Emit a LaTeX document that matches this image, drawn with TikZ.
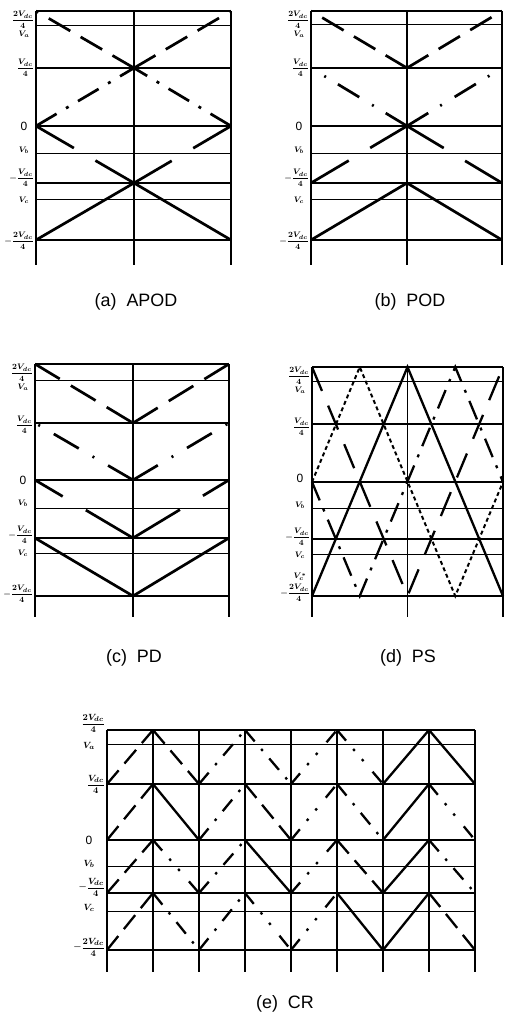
\documentclass[tikz,border=0pt]{standalone}
\usepackage{fontspec}
\setsansfont{Liberation Sans}
\usepackage{amsmath}

% level grid of one panel: thick band lines, thin reference lines, verticals
\newcommand\levelgrid[1]{%
  \foreach \yy in {\pT,\pQ,\pZ,\pM,\pB} \draw[major] (\pL,\yy) -- (\pR,\yy);
  \foreach \yy in {\pVa,\pVb,\pVc} \draw[minor] (\pL,\yy) -- (\pR,\yy);
  \foreach \xx in {#1} \draw[vert] (\xx,\pT) -- (\xx,\pE);
}

% level labels at the left of a panel
\newcommand\levellabels[9]{%
  \node[lvl,anchor=east] (#1-t) at (\pL-2,#2) {$\displaystyle\frac{2V_{dc}}{4}$};
  \node[lvl] (#1-va) at (\pL-\pLo,#3) {$V_a$};
  \node[lvl,anchor=east] (#1-q) at (\pL-2,#4) {$\displaystyle\frac{V_{dc}}{4}$};
  \node[zero] (#1-z) at (\pL-\pLo,#5) {0};
  \node[lvl] (#1-vb) at (\pL-\pLo,#6) {$V_b$};
  \node[lvl,anchor=east] (#1-m) at (\pL-2,#7) {$-\displaystyle\frac{V_{dc}}{4}$};
  \node[lvl] (#1-vc) at (\pL-\pLo,#8) {$V_c$};
  \node[lvl,anchor=east] (#1-b) at (\pL-2,#9) {$-\displaystyle\frac{2V_{dc}}{4}$};
}

\begin{document}
\begin{tikzpicture}[x=1bp,y=-1bp,
  major/.style={line width=1.5bp},
  minor/.style={line width=0.7bp},
  vert/.style={line width=1.6bp},
  wave/.style={line width=2.7bp},
  lvl/.style={inner sep=0pt,font=\fontsize{8}{8}\selectfont\boldmath},
  zero/.style={inner sep=0pt,font=\sffamily\fontsize{12}{12}\selectfont},
  caption/.style={inner sep=0pt,font=\sffamily\fontsize{18}{18}\selectfont},
  crA/.style={line width=2.3bp},
  crB/.style={line width=2.3bp,dash pattern=on 18 off 9},
  crC/.style={line width=2.3bp,dash pattern=on 15 off 10 on 2.5 off 10},
  crD/.style={line width=2.3bp,dash pattern=on 14 off 11 on 2.5 off 11 on 2.5 off 14},
]
\fill[white] (0,0) rectangle (505,1021);
\useasboundingbox (0,0) rectangle (505,1021);

% ---------------- (a) APOD ----------------
\begin{scope}
\def\pL{36}\def\pR{231}\def\pC{134}\def\pLo{12}
\def\pT{11}\def\pVa{25}\def\pQ{68}\def\pZ{126}\def\pVb{153}\def\pM{183}\def\pVc{199}\def\pB{240}\def\pE{265}
\levelgrid{\pL,\pC,\pR}
\levellabels{a}{20}{34}{68}{126}{150}{178}{200}{241}
\draw[wave,dash pattern=on 25 off 12] (\pC,\pQ) -- (\pL,\pT);
\draw[wave,dash pattern=on 25 off 12] (\pC,\pQ) -- (\pR,\pT);
\draw[wave,dash pattern=on 24 off 11 on 3 off 11] (\pL,\pZ) -- (\pC,\pQ);
\draw[wave,dash pattern=on 24 off 11 on 3 off 11] (\pR,\pZ) -- (\pC,\pQ);
\draw[wave,dash pattern=on 44 off 25] (\pL,\pZ) -- (\pC,\pM);
\draw[wave,dash pattern=on 44 off 25] (\pR,\pZ) -- (\pC,\pM);
\draw[wave] (\pL,\pB) -- (\pC,\pM) -- (\pR,\pB);
\end{scope}
\node[caption] (cap-a) at (136,302) {(a)~~APOD};

% ---------------- (b) POD ----------------
\begin{scope}
\def\pL{311}\def\pR{502}\def\pC{407}\def\pLo{12}
\def\pT{11}\def\pVa{24}\def\pQ{68}\def\pZ{126}\def\pVb{153}\def\pM{183}\def\pVc{199}\def\pB{240}\def\pE{265}
\levelgrid{\pL,\pC,\pR}
\levellabels{b}{20}{34}{68}{126}{150}{178}{200}{241}
\draw[wave,dash pattern=on 25 off 12] (\pC,\pQ) -- (\pL,\pT);
\draw[wave,dash pattern=on 25 off 12] (\pC,\pQ) -- (\pR,\pT);
\draw[wave,dash pattern=on 25 off 14 on 2 off 15] (\pC,\pZ) -- (\pL,\pQ);
\draw[wave,dash pattern=on 25 off 14 on 2 off 15] (\pC,\pZ) -- (\pR,\pQ);
\draw[wave,dash pattern=on 43 off 25] (\pC,\pZ) -- (\pL,\pM);
\draw[wave,dash pattern=on 43 off 25] (\pC,\pZ) -- (\pR,\pM);
\draw[wave] (\pL,\pB) -- (\pC,\pM) -- (\pR,\pB);
\end{scope}
\node[caption] (cap-b) at (410,302) {(b)~~POD};

% ---------------- (c) PD ----------------
\begin{scope}
\def\pL{35}\def\pR{229}\def\pC{133}\def\pLo{12}
\def\pT{364}\def\pVa{380}\def\pQ{423}\def\pZ{480}\def\pVb{508}\def\pM{538}\def\pVc{553}\def\pB{596}\def\pE{617}
\levelgrid{\pL,\pC,\pR}
\levellabels{c}{373}{387}{425}{480}{503}{535}{553}{594}
\draw[wave,dash pattern=on 29 off 13] (\pL,\pT) -- (\pC,\pQ);
\draw[wave,dash pattern=on 29 off 13] (\pR,\pT) -- (\pC,\pQ);
\draw[wave,dash pattern=on 29 off 16 on 2 off 16] (\pC,\pZ) -- (\pL,\pQ);
\draw[wave,dash pattern=on 29 off 16 on 2 off 16] (\pC,\pZ) -- (\pR,\pQ);
\draw[wave,dash pattern=on 55 off 27] (\pC,\pM) -- (\pL,\pZ);
\draw[wave,dash pattern=on 55 off 27] (\pC,\pM) -- (\pR,\pZ);
\draw[wave] (\pL,\pM) -- (\pC,\pB) -- (\pR,\pM);
\end{scope}
\node[caption] (cap-c) at (134,658) {(c)~~PD};

% ---------------- (d) PS ----------------
\begin{scope}
\def\pL{312}\def\pR{503}\def\pC{407.5}\def\pLo{12}
\def\pT{367}\def\pVa{381}\def\pQ{424}\def\pZ{482}\def\pVb{508}\def\pM{539}\def\pVc{554}\def\pB{596}\def\pE{617}
\def\ph{47.75}
\levelgrid{\pL,\pC,\pR}
\levellabels{d}{376}{390}{427}{478}{505}{537}{555}{593}
\node[lvl] (d-vx) at (\pL-\pLo,577) {$V_c^{*}$};
\draw[wave,line width=2.3bp] (\pL,\pB) -- (\pC,\pT) -- (\pR,\pB);
\draw[wave,line width=2bp,dash pattern=on 4 off 3]
  (\pL,\pZ) -- (\pL+\ph,\pT) -- (\pC+\ph,\pB) -- (\pR,\pZ);
\draw[wave,line width=2.3bp,dash pattern=on 20 off 9 on 3 off 9]
  (\pL,\pZ) -- (\pL+\ph,\pB) -- (\pC+\ph,\pT) -- (\pR,\pZ);
\draw[wave,line width=2.3bp,dash pattern=on 26 off 16]
  (\pL,\pT) -- (\pC,\pB) -- (\pR,\pT);
\end{scope}
\node[caption] (cap-d) at (408,658) {(d)~~PS};

% ---------------- (e) CR ----------------
\begin{scope}[lvl/.style={inner sep=0pt,font=\fontsize{9.5}{9.5}\selectfont\boldmath},
              vert/.style={line width=1.2bp}]
\def\pL{107}\def\pR{475}\def\pLo{18}
\def\pT{730}\def\pVa{744}\def\pQ{784}\def\pZ{840}\def\pVb{866}\def\pM{893}\def\pVc{911}\def\pB{950}\def\pE{972}
\levelgrid{107,153,199,245,291,337,383,429,475}
\levellabels{e}{723}{746}{784}{840}{864}{887}{908}{947}
\foreach \yt/\yb/\lst in {730/784/{crB,crB,crC,crC,crD,crD,crA,crA},
                          784/840/{crB,crA,crC,crB,crD,crC,crA,crD},
                          840/893/{crB,crD,crC,crA,crD,crB,crA,crC},
                          893/950/{crB,crC,crC,crD,crD,crA,crA,crB}}{
  \foreach \s [count=\i from 0] in \lst {
    \pgfmathsetmacro\xa{107+46*\i}
    \pgfmathsetmacro\xb{153+46*\i}
    \ifodd\i
      \draw[\s] (\xa,\yt) -- (\xb,\yb);
    \else
      \draw[\s] (\xa,\yb) -- (\xb,\yt);
    \fi
  }
}
\end{scope}
\node[caption] (cap-e) at (285,1004) {(e)~~CR};
\end{tikzpicture}
\end{document}
